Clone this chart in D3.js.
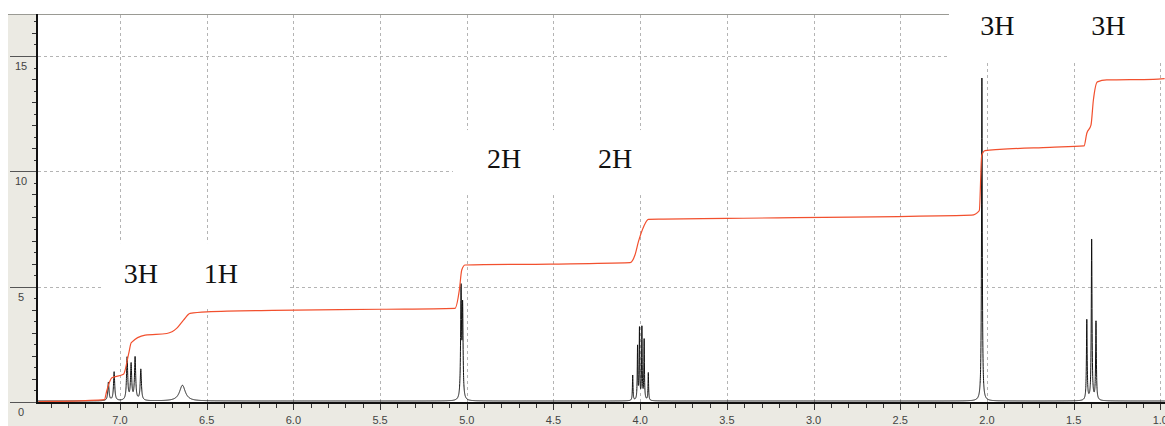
<!DOCTYPE html>
<head>
  <meta charset="utf-8">
  <script src="https://d3js.org/d3.v7.min.js"></script>
  <style>
    body { margin: 0; padding: 0; background: #fff; }
    svg { display: block; }
  </style>
</head>
<body>
  <script>
    // peaks of the spectrum: position (ppm), height, half width (ppm)
    var peakPpm = [7.067, 7.034, 6.959, 6.936, 6.913, 6.880, 6.640,
        5.033, 5.024,
        4.043, 4.015, 4.004, 3.990, 3.977, 3.953,
        2.029,
        1.424, 1.396, 1.371],
      peakHeight = [0.8, 1.25, 1.85, 1.55, 1.85, 1.35, 0.68,
        4.7, 3.9,
        1.1, 2.3, 3.1, 3.15, 2.6, 1.2,
        14.0,
        3.5, 7.0, 3.4],
      peakWidth = [0.004, 0.004, 0.004, 0.004, 0.004, 0.004, 0.02,
        0.003, 0.003,
        0.002, 0.002, 0.002, 0.002, 0.002, 0.002,
        0.0025,
        0.0025, 0.0025, 0.0025];

    // integration curve
    var integralPpm = [7.47, 7.35, 7.2, 7.09, 7.076, 7.047, 6.98, 6.95, 6.935, 6.855, 6.73, 6.672,
        6.634, 6.596, 6.50, 6.12, 5.49, 5.068, 5.043, 5.029, 5.01, 4.52, 4.058, 4.03, 4.01,
        3.98, 3.953, 3.866, 3.5, 2.088, 2.044, 2.03, 2.011, 1.925, 1.637, 1.44, 1.424, 1.40,
        1.386, 1.363, 1.309, 1.04, 0.975],
      integralValue = [0.02, 0.03, 0.06, 0.1, 0.5, 1.05, 1.2, 2.1, 2.57, 2.9, 2.97, 3.2,
        3.55, 3.84, 3.91, 3.97, 4.02, 4.06, 4.85, 5.72, 5.94, 5.98, 6.04, 6.37, 6.95,
        7.6, 7.92, 7.93, 7.96, 8.1, 8.3, 10.7, 10.9, 10.95, 11.04, 11.1, 11.65, 12.0,
        13.09, 13.88, 13.96, 13.99, 14.02];

    var xTicks = [7.0, 6.5, 6.0, 5.5, 5.0, 4.5, 4.0, 3.5, 3.0, 2.5, 2.0, 1.5, 1.0],
      xTickLabels = ['7.0', '6.5', '6.0', '5.5', '5.0', '4.5', '4.0', '3.5', '3.0', '2.5', '2.0', '1.5', '1.0'],
      yTicks = [0, 5, 10, 15],
      yTickLabels = ['0', '5', '10', '15'];

    // proton count labels: text, ppm, integral units (baseline)
    var hLabels = ['3H', '1H', '2H', '2H', '3H', '3H'],
      hLabelPpm = [6.879, 6.418, 4.785, 4.145, 1.94, 1.30],
      hLabelValue = [5.16, 5.16, 10.14, 10.14, 15.91, 15.91];

    // white boxes pasted over the plot: [ppm left, ppm right, top, bottom]
    var boxes = [[7.098, 6.02, 6.89, 4.07], [5.08, 3.50, 11.79, 8.97], [2.219, 0.9, 17.5, 14.82]];

    var width = 1165,
      height = 426;
    var margin = { top: 14, bottom: 23, left: 38, right: 0 };

    var svg = d3.select("body").append("svg")
      .attr("width", width)
      .attr("height", height);

    var x = d3.scaleLinear().domain([7.473, 0.973]).range([margin.left, width - margin.right]);
    var y = d3.scaleLinear().domain([0, 16.82]).range([height - margin.bottom - 1, margin.top]);

    var panel = "#ebeae3";

    // grey frame on the left and below
    svg.append("rect").attr("x", 8).attr("y", margin.top).attr("width", margin.left - 8)
      .attr("height", height - margin.top).attr("fill", panel);
    svg.append("rect").attr("x", 8).attr("y", y(0) + 1).attr("width", width - 8)
      .attr("height", height - y(0)).attr("fill", panel);
    svg.append("line").attr("x1", 8).attr("x2", width).attr("y1", margin.top + 0.5).attr("y2", margin.top + 0.5)
      .attr("stroke", "#9a9a94");

    // grid
    svg.append("g").selectAll("line").data(xTicks).enter().append("line")
      .attr("x1", function (d) { return Math.round(x(d)) + 0.5; })
      .attr("x2", function (d) { return Math.round(x(d)) + 0.5; })
      .attr("y1", margin.top + 1).attr("y2", y(0))
      .attr("stroke", "#b4b4b4").attr("stroke-dasharray", "3,3");
    svg.append("g").selectAll("line").data(yTicks.slice(1)).enter().append("line")
      .attr("x1", margin.left).attr("x2", width)
      .attr("y1", function (d) { return Math.round(y(d)) + 0.5; })
      .attr("y2", function (d) { return Math.round(y(d)) + 0.5; })
      .attr("stroke", "#b4b4b4").attr("stroke-dasharray", "3,3");

    // left axis: major lines, minor ticks, labels
    var yMinor = d3.range(0, 16.6, 0.5);
    svg.append("g").selectAll("line").data(yMinor).enter().append("line")
      .attr("x1", function (d) { return d % 1 === 0 ? margin.left - 6 : margin.left - 4; })
      .attr("x2", margin.left)
      .attr("y1", function (d) { return Math.round(y(d)) + 0.5; })
      .attr("y2", function (d) { return Math.round(y(d)) + 0.5; })
      .attr("stroke", "#333");
    svg.append("g").selectAll("line").data(yTicks).enter().append("line")
      .attr("x1", 10).attr("x2", margin.left)
      .attr("y1", function (d) { return Math.round(y(d)) + 0.5; })
      .attr("y2", function (d) { return Math.round(y(d)) + 0.5; })
      .attr("stroke", "#555");
    svg.append("g").selectAll("text").data(yTicks).enter().append("text")
      .attr("x", 21).attr("y", function (d) { return y(d) + 14; })
      .attr("text-anchor", "middle")
      .attr("font-family", "Liberation Sans, Arial, sans-serif").attr("font-size", "11px")
      .attr("fill", "#444")
      .text(function (d, i) { return yTickLabels[i]; });

    // bottom axis
    var xMinor = d3.range(10, 75).map(function (d) { return d / 10; });
    svg.append("g").selectAll("line").data(xMinor).enter().append("line")
      .attr("x1", function (d) { return Math.round(x(d)) + 0.5; })
      .attr("x2", function (d) { return Math.round(x(d)) + 0.5; })
      .attr("y1", y(0))
      .attr("y2", function (d) { return (d * 10) % 5 === 0 ? y(0) + 8 : y(0) + 6; })
      .attr("stroke", "#333");
    svg.append("g").selectAll("text").data(xTicks).enter().append("text")
      .attr("x", function (d) { return x(d); }).attr("y", y(0) + 22)
      .attr("text-anchor", "middle")
      .attr("font-family", "Liberation Sans, Arial, sans-serif").attr("font-size", "11px")
      .attr("fill", "#444")
      .text(function (d, i) { return xTickLabels[i]; });

    // spectrum, built from the peak list as lorentzian lines
    var grid = d3.range(7.473, 0.973, -0.0004);
    var spectrum = grid.map(function (p) {
      var s = 0;
      for (var i = 0; i < peakPpm.length; i++) {
        var w = peakWidth[i], dx = p - peakPpm[i];
        s += peakHeight[i] * w * w / (dx * dx + w * w);
      }
      return [p, s];
    });
    svg.append("path").datum(spectrum)
      .attr("fill", "none").attr("stroke", "#111").attr("stroke-width", 1)
      .attr("d", d3.line().x(function (d) { return x(d[0]); }).y(function (d) { return y(d[1]) - 1; }));

    // integration
    svg.append("path").datum(d3.zip(integralPpm, integralValue))
      .attr("fill", "none").attr("stroke", "#f2502e").attr("stroke-width", 1.2)
      .attr("d", d3.line().curve(d3.curveMonotoneX)
        .x(function (d) { return x(d[0]); }).y(function (d) { return y(d[1]); }));

    // axis lines
    svg.append("line").attr("x1", margin.left - 1).attr("x2", margin.left - 1)
      .attr("y1", margin.top).attr("y2", y(0) + 2).attr("stroke", "#111").attr("stroke-width", 2);
    svg.append("line").attr("x1", margin.left - 2).attr("x2", width)
      .attr("y1", y(0) + 1).attr("y2", y(0) + 1).attr("stroke", "#111").attr("stroke-width", 2);

    // white label boxes
    svg.append("g").selectAll("rect").data(boxes).enter().append("rect")
      .attr("x", function (d) { return x(d[0]); })
      .attr("y", function (d) { return y(d[2]); })
      .attr("width", function (d) { return x(d[1]) - x(d[0]); })
      .attr("height", function (d) { return y(d[3]) - y(d[2]); })
      .attr("fill", "#fff");
    svg.append("g").selectAll("text").data(hLabels).enter().append("text")
      .attr("x", function (d, i) { return x(hLabelPpm[i]); })
      .attr("y", function (d, i) { return y(hLabelValue[i]); })
      .attr("text-anchor", "middle")
      .attr("font-family", "Liberation Serif, serif").attr("font-size", "28px")
      .attr("fill", "#111")
      .text(function (d) { return d; });
  </script>
</body>
